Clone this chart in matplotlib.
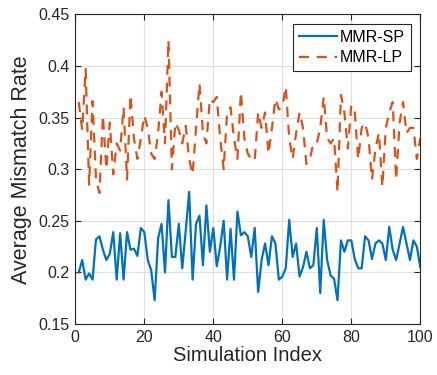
import numpy as np
import matplotlib
matplotlib.use("Agg")
import matplotlib.pyplot as plt

plt.rcParams['font.family'] = ['Liberation Sans', 'DejaVu Sans']

# simulation index 1..100
sim_idx = np.arange(1, 101)

mmr_sp = [0.200, 0.212, 0.193, 0.199, 0.193, 0.232, 0.235, 0.222, 0.212, 0.218,
          0.239, 0.193, 0.238, 0.193, 0.239, 0.222, 0.223, 0.216, 0.243, 0.239,
          0.212, 0.202, 0.173, 0.233, 0.247, 0.200, 0.270, 0.215, 0.215, 0.247,
          0.204, 0.240, 0.278, 0.193, 0.247, 0.255, 0.207, 0.265, 0.220, 0.243,
          0.206, 0.225, 0.250, 0.193, 0.242, 0.193, 0.259, 0.236, 0.239, 0.235,
          0.215, 0.243, 0.181, 0.212, 0.228, 0.207, 0.235, 0.228, 0.193, 0.196,
          0.204, 0.251, 0.215, 0.228, 0.196, 0.205, 0.220, 0.204, 0.207, 0.243,
          0.180, 0.251, 0.212, 0.197, 0.194, 0.173, 0.231, 0.220, 0.231, 0.231,
          0.213, 0.204, 0.204, 0.235, 0.231, 0.213, 0.228, 0.231, 0.228, 0.212,
          0.244, 0.222, 0.212, 0.228, 0.244, 0.228, 0.212, 0.231, 0.225, 0.205]

mmr_lp = [0.365, 0.338, 0.397, 0.285, 0.366, 0.290, 0.277, 0.352, 0.300, 0.345,
          0.295, 0.325, 0.318, 0.360, 0.290, 0.372, 0.330, 0.310, 0.330, 0.352,
          0.340, 0.315, 0.310, 0.335, 0.375, 0.325, 0.425, 0.300, 0.345, 0.338,
          0.325, 0.342, 0.310, 0.295, 0.340, 0.383, 0.335, 0.325, 0.368, 0.365,
          0.370, 0.330, 0.300, 0.355, 0.360, 0.330, 0.310, 0.375, 0.330, 0.315,
          0.310, 0.308, 0.355, 0.340, 0.355, 0.315, 0.340, 0.368, 0.358, 0.360,
          0.380, 0.330, 0.310, 0.335, 0.355, 0.340, 0.305, 0.310, 0.325, 0.325,
          0.340, 0.370, 0.330, 0.325, 0.330, 0.278, 0.372, 0.355, 0.320, 0.362,
          0.355, 0.310, 0.340, 0.345, 0.330, 0.290, 0.320, 0.335, 0.283, 0.340,
          0.355, 0.365, 0.290, 0.345, 0.365, 0.335, 0.340, 0.340, 0.310, 0.330]

fig = plt.figure(figsize=(4.37, 3.75), dpi=100)
ax = fig.add_axes([0.1723, 0.136, 0.7895, 0.8256])

ax.plot(sim_idx, mmr_sp, color='#0072BD', lw=1.6, label='MMR-SP')
ax.plot(sim_idx, mmr_lp, color='#D95319', lw=1.6, ls=(0, (4.5, 3.5)), label='MMR-LP')

ax.set_xlim(0, 100)
ax.set_ylim(0.15, 0.45)
ax.set_xticks(np.arange(0, 101, 20))
ax.set_yticks(np.arange(0.15, 0.451, 0.05))
ax.set_yticklabels(['0.15', '0.2', '0.25', '0.3', '0.35', '0.4', '0.45'])
ax.grid(True, color='#dfdfdf', lw=0.8)
ax.set_axisbelow(True)
ax.tick_params(direction='in', top=True, right=True, labelsize=11.5,
               colors='#262626', length=4, pad=4)
for s in ax.spines.values():
    s.set_color('#262626')
    s.set_linewidth(0.8)

ax.set_xlabel('Simulation Index', fontsize=14.5, color='#262626', labelpad=1)
ax.set_ylabel('Average Mismatch Rate', fontsize=15.5, color='#262626', labelpad=5)

leg = ax.legend(loc='upper right', fontsize=11.5, handlelength=2.4,
                handletextpad=0.2, fancybox=False, edgecolor='#262626',
                framealpha=1, borderaxespad=0.6, labelspacing=0.35,
                borderpad=0.35)
leg.get_frame().set_linewidth(0.8)

fig.savefig('out.png', dpi=100)
